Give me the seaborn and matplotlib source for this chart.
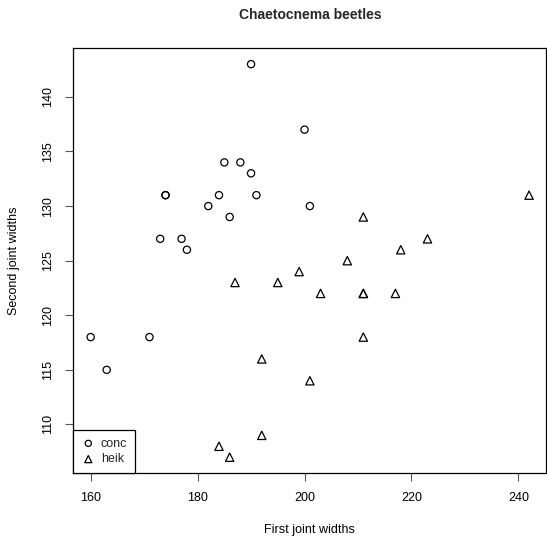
import pandas as pd
import seaborn as sns
import matplotlib.pyplot as plt

# Chaetocnema beetles: first and second joint widths
conc_first = [190, 200, 185, 188, 190, 174, 174, 184, 191, 182, 201, 186, 173, 177, 178, 160, 171, 163]
conc_second = [143, 137, 134, 134, 133, 131, 131, 131, 131, 130, 130, 129, 127, 127, 126, 118, 118, 115]
heik_first = [242, 211, 223, 218, 208, 199, 187, 195, 203, 211, 211, 217, 211, 192, 201, 192, 184, 186]
heik_second = [131, 129, 127, 126, 125, 124, 123, 123, 122, 122, 122, 122, 118, 116, 114, 109, 108, 107]

df = pd.DataFrame({
    'first': conc_first + heik_first,
    'second': conc_second + heik_second,
    'species': ['conc'] * len(conc_first) + ['heik'] * len(heik_first),
})

sns.set_style('white')
plt.rcParams['font.family'] = ['Liberation Sans', 'DejaVu Sans']

fig = plt.figure(figsize=(5.47, 5.38), dpi=100)
ax = fig.add_axes([0.134, 0.121, 0.865, 0.789])

markers = {'conc': 'o', 'heik': '^'}
sizes = {'conc': 27, 'heik': 36}
for sp, grp in df.groupby('species'):
    sns.scatterplot(data=grp, x='first', y='second', marker=markers[sp], s=sizes[sp],
                    fc='none', ec='black', linewidth=0.9, label=sp, ax=ax)

ax.set_xlim(156.75, 245.25)
ax.set_ylim(105.56, 144.44)
ax.set_xticks([160, 180, 200, 220, 240])
ax.set_yticks([110, 115, 120, 125, 130, 135, 140])
for s in ax.spines.values():
    s.set_color('black')
    s.set_linewidth(0.9)
ax.tick_params(direction='out', length=6, width=0.8, color='#555555', labelcolor='black',
               labelsize=9, pad=8, bottom=True, left=True)
plt.setp(ax.get_yticklabels(), rotation=90, va='center')

ax.set_xlabel('First joint widths', fontsize=9, labelpad=14, color='black')
ax.set_ylabel('Second joint widths', fontsize=9, labelpad=16, color='black')
ax.set_title('Chaetocnema beetles', fontsize=10, fontweight='bold', pad=21)

leg = ax.legend(loc='lower left', borderaxespad=0, fancybox=False, framealpha=1,
                edgecolor='black', fontsize=9, handletextpad=0.4, borderpad=0.6,
                handlelength=1.2, labelspacing=0.3, markerscale=0.85)
leg.get_frame().set_linewidth(0.9)

fig.savefig('out.png', dpi=100)
